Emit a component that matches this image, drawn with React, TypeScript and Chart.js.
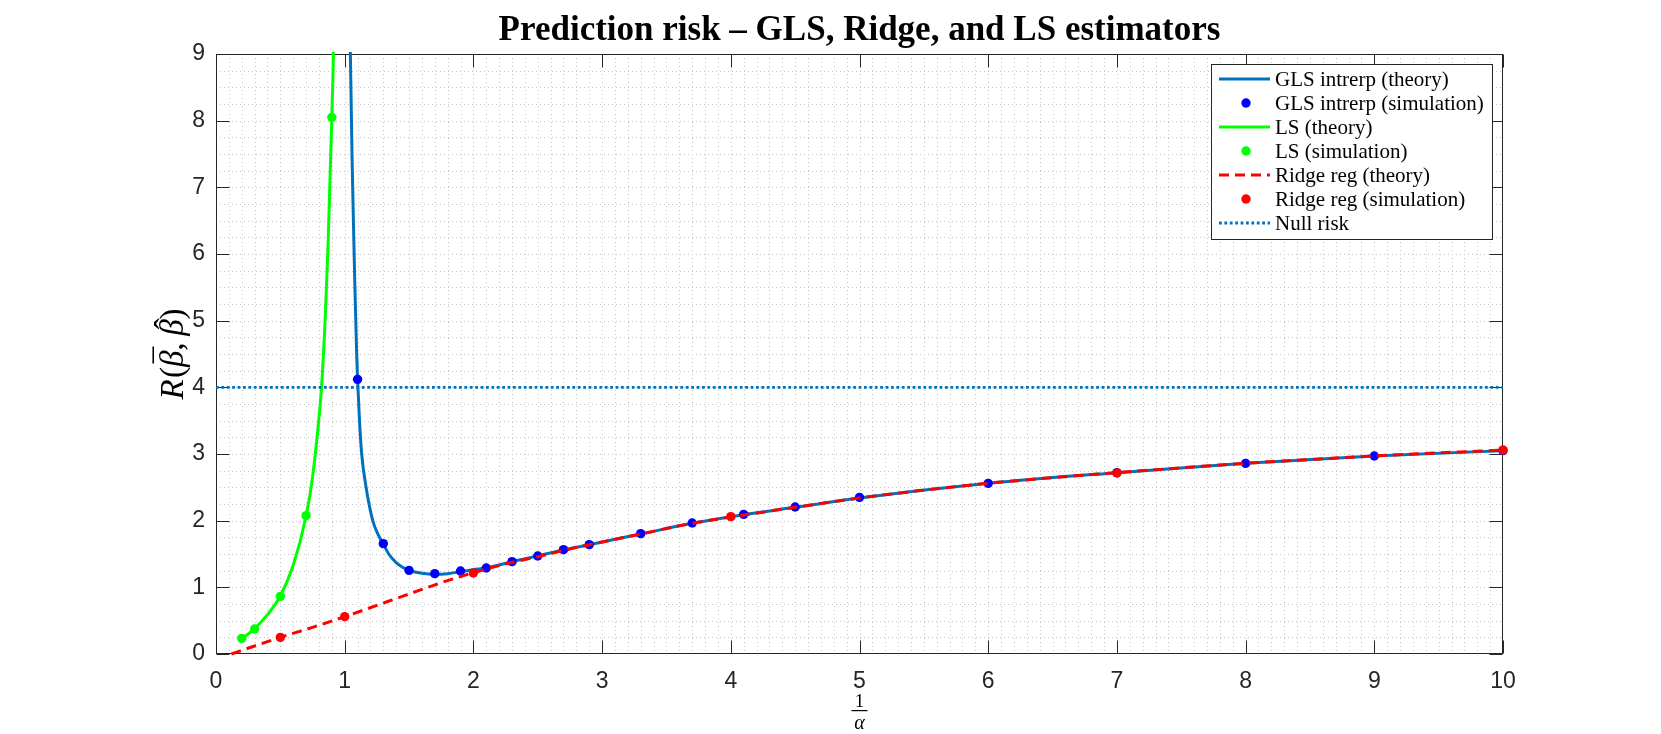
import React, { useEffect, useRef } from 'react';
import { Chart, registerables } from 'chart.js';

Chart.register(...registerables);

// ---------- tick labels ----------
const X_TICKS = [0, 1, 2, 3, 4, 5, 6, 7, 8, 9, 10];
const Y_TICKS = [0, 1, 2, 3, 4, 5, 6, 7, 8, 9];

// ---------- GLS interpolation ----------
const glsTheoryX = [1.03, 1.044, 1.062, 1.078, 1.093, 1.1, 1.115, 1.132, 1.166, 1.218, 1.26, 1.3, 1.342, 1.4, 1.45, 1.5, 1.6, 1.7, 1.8, 1.9, 2.0, 2.1, 2.3, 2.5, 2.7, 2.9, 3.3, 3.7, 4.1, 4.5, 5.0, 6.0, 7.0, 8.0, 9.0, 10.0];
const glsTheoryY = [12.0, 9.0, 7.0, 5.6, 4.5, 4.12, 3.5, 3.0, 2.5, 2.0, 1.79, 1.65, 1.5, 1.37, 1.3, 1.255, 1.21, 1.195, 1.205, 1.235, 1.265, 1.29, 1.385, 1.47, 1.56, 1.64, 1.8, 1.96, 2.09, 2.2, 2.34, 2.56, 2.72, 2.86, 2.97, 3.05];
const glsSimX = [1.1, 1.3, 1.5, 1.7, 1.9, 2.1, 2.3, 2.5, 2.7, 2.9, 3.3, 3.7, 4.1, 4.5, 5, 6, 7, 8, 9, 10];
const glsSimY = [4.12, 1.655, 1.255, 1.205, 1.245, 1.29, 1.385, 1.47, 1.565, 1.64, 1.805, 1.965, 2.095, 2.205, 2.35, 2.56, 2.72, 2.86, 2.97, 3.05];

// ---------- LS ----------
const lsTheoryX = [0.2, 0.25, 0.3, 0.4, 0.5, 0.6, 0.7, 0.75, 0.8, 0.82, 0.85, 0.87, 0.89, 0.9, 0.912, 0.925];
const lsTheoryY = [0.23, 0.3, 0.38, 0.59, 0.87, 1.33, 2.07, 2.65, 3.54, 4.0, 5.1, 6.1, 7.4, 8.05, 9.0, 11.0];
const lsSimX = [0.2, 0.3, 0.5, 0.7, 0.9];
const lsSimY = [0.235, 0.375, 0.865, 2.075, 8.05];

// ---------- Ridge ----------
const ridgeTheoryX = [0.12, 0.3, 0.5, 0.75, 1.0, 1.25, 1.5, 1.75, 2.0, 2.25, 2.5, 2.7, 2.9, 3.3, 3.7, 4.1, 4.5, 5, 6, 7, 8, 9, 10];
const ridgeTheoryY = [0.0, 0.12, 0.25, 0.4, 0.56, 0.73, 0.9, 1.07, 1.22, 1.35, 1.46, 1.555, 1.64, 1.8, 1.96, 2.085, 2.2, 2.34, 2.56, 2.72, 2.86, 2.97, 3.06];
const ridgeSimX = [0.5, 1, 2, 4, 7, 10];
const ridgeSimY = [0.25, 0.56, 1.215, 2.06, 2.715, 3.06];

// ---------- Null risk ----------
const nullX = [0, 10];
const nullY = [4, 4];

const LABELS = [
  'GLS intrerp (theory)',
  'GLS intrerp (simulation)',
  'LS (theory)',
  'LS (simulation)',
  'Ridge reg (theory)',
  'Ridge reg (simulation)',
  'Null risk',
];

const TITLE = 'Prediction risk \u2013 GLS, Ridge, and LS estimators';

// ---------- styles ----------
const GLS_LINE = '#0072BD';
const GLS_DOT = '#0000FF';
const LS_COLOR = '#00FF00';
const RIDGE_COLOR = '#FF0000';
const AXIS_COLOR = '#262626';
const GRID_COLOR = '#c4c4c4';
const X_MINOR_STEP = 0.1;
const Y_MINOR_STEP = 0.25;
const SANS = '"Liberation Sans", Arial, Helvetica, sans-serif';
const SERIF = '"Liberation Serif", "Times New Roman", serif';

function pts(xs: number[], ys: number[]) {
  return xs.map((x, i) => ({ x, y: ys[i] }));
}

const matlabPlugin = {
  id: 'matlabAxes',
  beforeDatasetsDraw(chart: any) {
    const { ctx, chartArea: a } = chart;
    const xs = chart.scales.x;
    const ys = chart.scales.y;
    ctx.save();
    // minor dotted grid
    ctx.strokeStyle = GRID_COLOR;
    ctx.lineWidth = 1;
    ctx.setLineDash([1, 3]);
    ctx.beginPath();
    const nx = Math.round((xs.max - xs.min) / X_MINOR_STEP);
    for (let i = 1; i < nx; i++) {
      const px = Math.round(xs.getPixelForValue(xs.min + i * X_MINOR_STEP)) + 0.5;
      ctx.moveTo(px, a.top);
      ctx.lineTo(px, a.bottom);
    }
    const ny = Math.round((ys.max - ys.min) / Y_MINOR_STEP);
    for (let j = 1; j < ny; j++) {
      const py = Math.round(ys.getPixelForValue(ys.min + j * Y_MINOR_STEP)) + 0.5;
      ctx.moveTo(a.left, py);
      ctx.lineTo(a.right, py);
    }
    ctx.stroke();

    // box
    ctx.setLineDash([]);
    ctx.strokeStyle = AXIS_COLOR;
    ctx.lineWidth = 1;
    const L = Math.round(a.left) + 0.5;
    const R = Math.round(a.right) - 0.5;
    const T = Math.round(a.top) + 0.5;
    const B = Math.round(a.bottom) - 0.5;
    ctx.strokeRect(L, T, R - L, B - T);

    // inward ticks on all four sides
    const tl = 13;
    ctx.beginPath();
    X_TICKS.forEach((v) => {
      const px = Math.round(xs.getPixelForValue(v)) + 0.5;
      ctx.moveTo(px, B);
      ctx.lineTo(px, B - tl);
      ctx.moveTo(px, T);
      ctx.lineTo(px, T + tl);
    });
    Y_TICKS.forEach((v) => {
      const py = Math.round(ys.getPixelForValue(v)) + 0.5;
      ctx.moveTo(L, py);
      ctx.lineTo(L + tl, py);
      ctx.moveTo(R, py);
      ctx.lineTo(R - tl, py);
    });
    ctx.stroke();
    ctx.restore();
  },
  afterDatasetsDraw(chart: any) {
    const { ctx, chartArea: a } = chart;
    const dsets = chart.data.datasets;
    ctx.save();
    ctx.font = `21px ${SERIF}`;
    let maxW = 0;
    dsets.forEach((d: any) => {
      maxW = Math.max(maxW, ctx.measureText(d.label).width);
    });
    const rowH = 24;
    const w = Math.round(64 + maxW + 8);
    const h = 15 + (dsets.length - 1) * rowH + 16;
    const right = Math.round(a.right) - 11;
    const left = right - w;
    const top = Math.round(a.top) + 10;
    ctx.fillStyle = '#ffffff';
    ctx.fillRect(left, top, w, h);
    ctx.strokeStyle = AXIS_COLOR;
    ctx.lineWidth = 1;
    ctx.strokeRect(left + 0.5, top + 0.5, w, h);
    dsets.forEach((d: any, i: number) => {
      const cy = top + 15 + i * rowH;
      if (d.showLine) {
        ctx.save();
        ctx.strokeStyle = d.borderColor;
        ctx.lineWidth = d.borderWidth;
        ctx.setLineDash(d.borderDash || []);
        ctx.beginPath();
        ctx.moveTo(left + 8, cy);
        ctx.lineTo(left + 59, cy);
        ctx.stroke();
        ctx.restore();
      } else {
        ctx.fillStyle = d.backgroundColor;
        ctx.beginPath();
        ctx.arc(left + 35, cy, d.pointRadius, 0, Math.PI * 2);
        ctx.fill();
      }
      ctx.fillStyle = '#000000';
      ctx.textBaseline = 'middle';
      ctx.textAlign = 'left';
      ctx.fillText(d.label, left + 64, cy + 1);
    });
    ctx.restore();
  },
  afterDraw(chart: any) {
    const { ctx, chartArea: a } = chart;
    const cx = (a.left + a.right) / 2;
    ctx.save();
    // title
    ctx.fillStyle = '#000000';
    ctx.font = `bold 35px ${SERIF}`;
    ctx.textAlign = 'center';
    ctx.textBaseline = 'alphabetic';
    ctx.fillText(TITLE, cx, 40);

    // x label: fraction 1 / alpha
    ctx.font = `19px ${SERIF}`;
    ctx.fillText('1', cx, 707);
    ctx.fillRect(cx - 8, 710, 16, 1.2);
    ctx.font = `italic 20px ${SERIF}`;
    ctx.fillText('\u03B1', cx, 729);

    // y label: R(beta-bar, beta-hat), rotated
    type Part = { t: string; it: boolean; acc?: string; after?: number };
    const parts: Part[] = [
      { t: 'R', it: true, after: 0.04 },
      { t: '(', it: false },
      { t: '\u03B2', it: true, acc: '\u00AF' },
      { t: ',', it: false, after: 0.2 },
      { t: '\u03B2', it: true, acc: '\u02C6' },
      { t: ')', it: false },
    ];
    const fs = 33;
    let total = 0;
    const widths = parts.map((p) => {
      ctx.font = `${p.it ? 'italic ' : ''}${fs}px ${SERIF}`;
      const wv = ctx.measureText(p.t).width + (p.after || 0) * fs;
      total += wv;
      return wv;
    });
    ctx.translate(183, (a.top + a.bottom) / 2);
    ctx.rotate(-Math.PI / 2);
    let xx = -total / 2;
    parts.forEach((p, i) => {
      ctx.font = `${p.it ? 'italic ' : ''}${fs}px ${SERIF}`;
      ctx.textAlign = 'left';
      ctx.fillText(p.t, xx, 0);
      if (p.acc) {
        const bw = ctx.measureText(p.t).width;
        ctx.font = `${fs}px ${SERIF}`;
        ctx.textAlign = 'center';
        ctx.fillText(p.acc, xx + bw / 2 + 0.12 * fs, -0.16 * fs);
      }
      xx += widths[i];
    });
    ctx.restore();
  },
};

export default function App() {
  const ref = useRef<HTMLCanvasElement>(null);

  useEffect(() => {
    document.body.style.margin = '0';
    const canvas = ref.current;
    if (!canvas) return;
    const lineBase = {
      showLine: true,
      pointRadius: 0,
      pointHoverRadius: 0,
      cubicInterpolationMode: 'monotone' as const,
      fill: false,
      clip: 2,
    };
    const dotBase = {
      showLine: false,
      pointRadius: 4.7,
      pointHoverRadius: 4.7,
      borderWidth: 0,
      clip: false as const,
    };
    const chart = new Chart(canvas, {
      type: 'scatter',
      data: {
        datasets: [
          { ...lineBase, label: LABELS[0], data: pts(glsTheoryX, glsTheoryY), borderColor: GLS_LINE, borderWidth: 3, order: 6 },
          { ...dotBase, label: LABELS[1], data: pts(glsSimX, glsSimY), backgroundColor: GLS_DOT, pointBackgroundColor: GLS_DOT, order: 5 },
          { ...lineBase, label: LABELS[2], data: pts(lsTheoryX, lsTheoryY), borderColor: LS_COLOR, borderWidth: 3, order: 4 },
          { ...dotBase, label: LABELS[3], data: pts(lsSimX, lsSimY), backgroundColor: LS_COLOR, pointBackgroundColor: LS_COLOR, order: 3 },
          { ...lineBase, label: LABELS[4], data: pts(ridgeTheoryX, ridgeTheoryY), borderColor: RIDGE_COLOR, borderWidth: 3, borderDash: [10, 6], order: 2 },
          { ...dotBase, label: LABELS[5], data: pts(ridgeSimX, ridgeSimY), backgroundColor: RIDGE_COLOR, pointBackgroundColor: RIDGE_COLOR, order: 1 },
          { ...lineBase, label: LABELS[6], data: pts(nullX, nullY), borderColor: GLS_LINE, borderWidth: 2.8, borderDash: [2.8, 2.6], cubicInterpolationMode: 'default' as const, order: 0 },
        ] as any,
      },
      options: {
        responsive: false,
        animation: false,
        devicePixelRatio: 1,
        events: [],
        layout: { padding: { left: 0, right: 158, top: 54, bottom: 0 } },
        plugins: {
          legend: { display: false },
          tooltip: { enabled: false },
          title: { display: false },
        },
        scales: {
          x: {
            type: 'linear',
            min: 0,
            max: 10,
            afterBuildTicks: (s: any) => {
              s.ticks = X_TICKS.map((v) => ({ value: v }));
            },
            afterFit: (s: any) => {
              s.height = 80;
            },
            grid: { display: false, drawTicks: false },
            border: { display: false },
            ticks: {
              color: AXIS_COLOR,
              font: { family: SANS, size: 23 },
              padding: 14,
              maxRotation: 0,
              autoSkip: false,
            },
          },
          y: {
            type: 'linear',
            min: 0,
            max: 9,
            afterBuildTicks: (s: any) => {
              s.ticks = Y_TICKS.map((v) => ({ value: v }));
            },
            afterFit: (s: any) => {
              s.width = 216;
            },
            grid: { display: false, drawTicks: false },
            border: { display: false },
            ticks: {
              color: AXIS_COLOR,
              font: { family: SANS, size: 23 },
              padding: 11,
              autoSkip: false,
            },
          },
        },
      } as any,
      plugins: [matlabPlugin],
    });
    return () => chart.destroy();
  }, []);

  return (
    <div style={{ width: 1661, height: 734, position: 'relative', background: '#ffffff' }}>
      <canvas ref={ref} width={1661} height={734} style={{ display: 'block', width: 1661, height: 734 }} />
    </div>
  );
}
